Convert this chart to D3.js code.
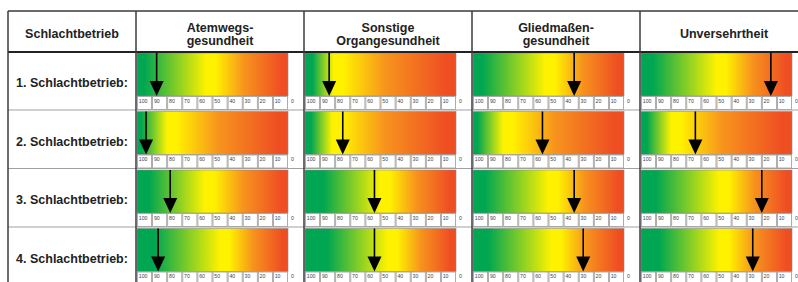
<!DOCTYPE html>
<html>
<head>
<meta charset="utf-8">
<script src="https://cdn.jsdelivr.net/npm/d3@7"></script>
<style>
  body { margin: 0; background: #fff; }
  text { font-family: "Liberation Sans", Arial, sans-serif; }
</style>
</head>
<body>
<script>
// Schlachtbetriebe und Kategorien
var betriebe = ["1. Schlachtbetrieb:", "2. Schlachtbetrieb:", "3. Schlachtbetrieb:", "4. Schlachtbetrieb:"];
var kategorien = [["Atemwegs-", "gesundheit"], ["Sonstige", "Organgesundheit"], ["Gliedmaßen-", "gesundheit"], ["Unversehrtheit"]];

// Werte (Pfeilposition) je Kategorie, eine Zahl je Betrieb
var atemwege = [87, 94, 78, 86];
var sonstigeOrgane = [84, 75, 54, 54];
var gliedmassen = [33, 54, 33, 27];
var unversehrtheit = [14, 64, 20, 26];

var tickLabels = [100, 90, 80, 70, 60, 50, 40, 30, 20, 10, 0];

// Verlauf: wo die Farbe gelb erreicht wird (Anteil der Skala), je Betrieb und Kategorie
var gelbBei = [[0.46, 0.19, 0.48, 0.50], [0.20, 0.18, 0.20, 0.20], [0.45, 0.50, 0.50, 0.52], [0.55, 0.55, 0.52, 0.52]];
var gruenBis = [[0.05, 0.05, 0.06, 0.08], [0.03, 0.04, 0.03, 0.04], [0.08, 0.12, 0.08, 0.10], [0.12, 0.15, 0.10, 0.12]];

var werte = [atemwege, sonstigeOrgane, gliedmassen, unversehrtheit];

var WIDTH = 798, HEIGHT = 282;
var TOP = 11, HEADER_BOTTOM = 52, LEFT = 8, LABEL_RIGHT = 136;
var COL_W = 168, BAR_W = 151, BAR_H = 43, STRIP_H = 13;

var GREEN = "#00a651", YELLOW = "#fff200", ORANGE = "#f7941d", RED = "#ef4e23";
var LINE_DARK = "#3a3a3a", LINE_LIGHT = "#a0a0a0", TEXT_COLOR = "#222";

var svg = d3.select("body").append("svg").attr("width", WIDTH).attr("height", HEIGHT);
var defs = svg.append("defs");

var xCol = d3.scaleBand().domain(d3.range(kategorien.length)).range([LABEL_RIGHT, LABEL_RIGHT + COL_W * kategorien.length]);
var yRow = d3.scaleBand().domain(d3.range(betriebe.length)).range([HEADER_BOTTOM, HEADER_BOTTOM + 58.5 * betriebe.length]);
var xVal = d3.scaleLinear().domain([100, 0]).range([0, BAR_W]);

// header texts
svg.append("text")
  .attr("x", (LEFT + LABEL_RIGHT) / 2).attr("y", 37.5)
  .attr("text-anchor", "middle").attr("font-size", 12.5).attr("font-weight", "bold")
  .attr("fill", TEXT_COLOR).text("Schlachtbetrieb");

kategorien.forEach(function(lines, c) {
  var cx = xCol(c) + COL_W / 2;
  var y0 = lines.length == 1 ? 37.5 : 31.5;
  lines.forEach(function(line, i) {
    svg.append("text")
      .attr("x", cx).attr("y", y0 + i * 13.5)
      .attr("text-anchor", "middle").attr("font-size", 12.5).attr("font-weight", "bold")
      .attr("fill", TEXT_COLOR).text(line);
  });
});

// rows
betriebe.forEach(function(name, r) {
  var top = yRow(r);
  svg.append("text")
    .attr("x", (LEFT + LABEL_RIGHT) / 2).attr("y", top + 35)
    .attr("text-anchor", "middle").attr("font-size", 12.5).attr("font-weight", "bold")
    .attr("fill", TEXT_COLOR).text(name);

  werte.forEach(function(serie, c) {
    var x0 = xCol(c) + 1;
    var gy = gelbBei[r][c], gg = gruenBis[r][c];
    var id = "grad_" + r + "_" + c;
    var grad = defs.append("linearGradient").attr("id", id).attr("x1", "0%").attr("x2", "100%");
    [[0, GREEN], [gg, GREEN], [gy, YELLOW], [gy + 0.06, YELLOW], [gy + 0.06 + (1 - gy) * 0.35, ORANGE], [Math.min(1, gy + (1 - gy) * 0.92), RED], [1, RED]]
      .forEach(function(s) {
        grad.append("stop").attr("offset", (s[0] * 100) + "%").attr("stop-color", s[1]);
      });

    var g = svg.append("g").attr("transform", "translate(" + x0 + "," + (top + 1) + ")");
    g.append("rect").attr("width", BAR_W).attr("height", BAR_H)
      .attr("fill", "url(#" + id + ")").attr("stroke", "#8a8a8a").attr("stroke-width", 0.6);

    // tick strip
    var cells = tickLabels.slice(0, tickLabels.length - 1);
    g.selectAll("rect.cell").data(cells).enter().append("rect")
      .attr("class", "cell")
      .attr("x", function(d) { return xVal(d) + 0.5; })
      .attr("y", BAR_H + 0.5)
      .attr("width", BAR_W / 10 - 1).attr("height", STRIP_H)
      .attr("fill", "#fff").attr("stroke", "#9a9a9a").attr("stroke-width", 0.8);
    g.selectAll("text.tick").data(tickLabels).enter().append("text")
      .attr("class", "tick")
      .attr("x", function(d) { return xVal(d) + (d == 0 ? 3 : 1.8); })
      .attr("y", BAR_H + 6.5)
      .attr("font-size", 5.2).attr("fill", "#444")
      .text(function(d) { return d; });

    // arrow
    var ax = xVal(serie[r]);
    g.append("line").attr("x1", ax).attr("x2", ax).attr("y1", 0).attr("y2", BAR_H - 12)
      .attr("stroke", "#000").attr("stroke-width", 1.6);
    g.append("path")
      .attr("d", "M" + (ax - 7) + "," + (BAR_H - 15) + "L" + (ax + 7) + "," + (BAR_H - 15) + "L" + ax + "," + BAR_H + "Z")
      .attr("fill", "#000");
  });
});

// table lines
var bottom = HEIGHT + 5;
yRow.domain().slice(1).forEach(function(r) {
  svg.append("line").attr("x1", LEFT).attr("x2", WIDTH).attr("y1", yRow(r) - 0.5).attr("y2", yRow(r) - 0.5)
    .attr("stroke", LINE_LIGHT).attr("stroke-width", 1);
});
svg.append("line").attr("x1", LEFT).attr("x2", WIDTH).attr("y1", TOP).attr("y2", TOP)
  .attr("stroke", LINE_DARK).attr("stroke-width", 1.5);
svg.append("line").attr("x1", LEFT).attr("x2", WIDTH).attr("y1", HEADER_BOTTOM).attr("y2", HEADER_BOTTOM)
  .attr("stroke", "#222").attr("stroke-width", 2);
[LEFT].concat(xCol.domain().map(function(c) { return xCol(c); })).forEach(function(x) {
  svg.append("line").attr("x1", x).attr("x2", x).attr("y1", TOP).attr("y2", bottom)
    .attr("stroke", LINE_DARK).attr("stroke-width", 1.5);
});
</script>
</body>
</html>
